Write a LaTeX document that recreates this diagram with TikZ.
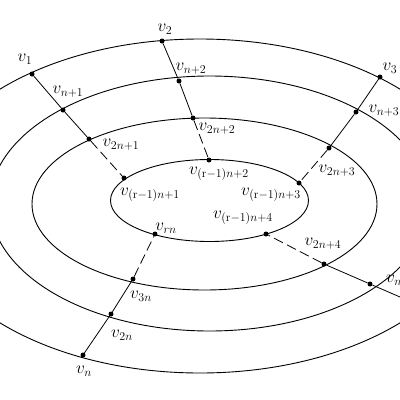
\documentclass[tikz,border=0pt]{standalone}
\begin{document}
\begin{tikzpicture}[x=1pt,y=-1pt,
  ring/.style={line width=0.9pt},
  spoke/.style={line width=0.8pt},
  dsh/.style={line width=0.8pt, dash pattern=on 10pt off 4.5pt},
  dot/.style={circle, fill=black, inner sep=0pt, minimum size=5pt},
  lab/.style={inner sep=0pt, font=\LARGE}]
\useasboundingbox (0,0) rectangle (400,400);
\clip (0,0) rectangle (400,400);
% rings
\draw[ring] (209.5,200.5) ellipse [x radius=99pt, y radius=41pt];
\draw[ring] (204.5,204) ellipse [x radius=172.5pt, y radius=86pt];
\draw[ring] (209.6,203.5) ellipse [x radius=219.6pt, y radius=127.5pt];
\draw[ring] (200,206) ellipse [x radius=280pt, y radius=167pt];
% vertices
\node[dot] (a1) at (32,74) {};
\node[dot] (b1) at (63,110) {};
\node[dot] (c1) at (89,139) {};
\node[dot] (d1) at (124,178) {};
\node[dot] (a2) at (162,41) {};
\node[dot] (b2) at (179,81) {};
\node[dot] (c2) at (193,118) {};
\node[dot] (d2) at (209,160) {};
\node[dot] (a3) at (380,77) {};
\node[dot] (b3) at (356,112) {};
\node[dot] (c3) at (329,148) {};
\node[dot] (d3) at (299,183) {};
\node[dot] (b4) at (370,284) {};
\node[dot] (c4) at (324,264) {};
\node[dot] (d4) at (266,234) {};
\coordinate (e4) at (430,310);
\node[dot] (an) at (83,355) {};
\node[dot] (bn) at (111,314) {};
\node[dot] (cn) at (133,279) {};
\node[dot] (dn) at (155,234) {};
% spokes
\draw[spoke] (a1) -- (b1) -- (c1);
\draw[dsh] (c1) -- (d1);
\draw[spoke] (a2) -- (b2) -- (c2);
\draw[dsh] (c2) -- (d2);
\draw[spoke] (a3) -- (b3) -- (c3);
\draw[dsh] (c3) -- (d3);
\draw[spoke] (e4) -- (b4) -- (c4);
\draw[dsh] (c4) -- (d4);
\draw[spoke] (an) -- (bn) -- (cn);
\draw[dsh] (cn) -- (dn);
% labels
\node[lab] (l1) at (25,59) {$v_1$};
\node[lab] (l2) at (165,29) {$v_2$};
\node[lab] (l3) at (390,68) {$v_3$};
\node[lab] (ln1) at (68,92) {$v_{n+1}$};
\node[lab] (ln2) at (191,69) {$v_{n+2}$};
\node[lab] (ln3) at (384,111) {$v_{n+3}$};
\node[lab, anchor=west] (ln4) at (386,281) {$v_{n+4}$};
\node[lab] (l2n1) at (121,145) {$v_{2n+1}$};
\node[lab] (l2n2) at (217,129) {$v_{2n+2}$};
\node[lab] (l2n3) at (337,171) {$v_{2n+3}$};
\node[lab] (l2n4) at (323,244) {$v_{2n+4}$};
\node[lab] (lr1) at (150,195) {$v_{(\mathrm{r}-1)n+1}$};
\node[lab] (lr2) at (219,174) {$v_{(\mathrm{r}-1)n+2}$};
\node[lab] (lr3) at (271,195) {$v_{(\mathrm{r}-1)n+3}$};
\node[lab] (lr4) at (243,218) {$v_{(\mathrm{r}-1)n+4}$};
\node[lab] (lrn) at (166,228) {$v_{rn}$};
\node[lab] (l3n) at (141,296) {$v_{3n}$};
\node[lab] (l2n) at (122,335) {$v_{2n}$};
\node[lab] (lnn) at (84,371) {$v_n$};
\end{tikzpicture}
\end{document}
